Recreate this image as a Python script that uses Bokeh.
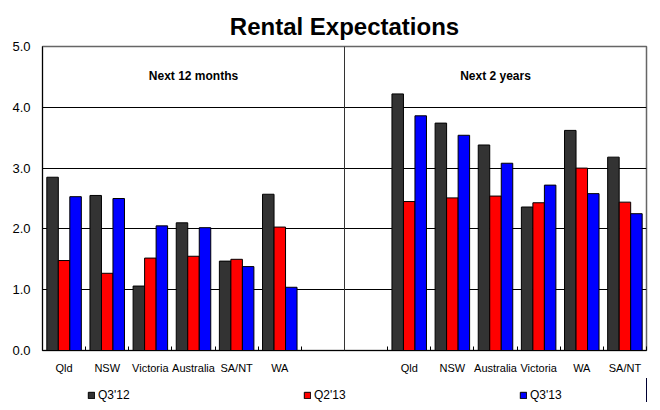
from bokeh.plotting import figure
from bokeh.layouts import column
from bokeh.models import (Range1d, FixedTicker, Span, Legend, LegendItem,
                          ColumnDataSource, NumeralTickFormatter)
from bokeh.core.properties import value
from bokeh.embed import file_html
from bokeh.resources import INLINE

left_cats = ["Qld", "NSW", "Victoria", "Australia", "SA/NT", "WA"]
right_cats = ["Qld", "NSW", "Australia", "Victoria", "WA", "SA/NT"]
series = ["Q3'12", "Q2'13", "Q3'13"]
left_q312 = [2.85, 2.55, 1.06, 2.10, 1.47, 2.57]
left_q213 = [1.48, 1.27, 1.52, 1.55, 1.50, 2.03]
left_q313 = [2.53, 2.50, 2.05, 2.02, 1.38, 1.04]
right_q312 = [4.22, 3.74, 3.38, 2.36, 3.62, 3.18]
right_q213 = [2.45, 2.51, 2.54, 2.43, 3.00, 2.44]
right_q313 = [3.86, 3.54, 3.08, 2.72, 2.58, 2.25]
panel_labels = ["Next 12 months", "Next 2 years"]
y_ticks = [0, 1, 2, 3, 4, 5]

FONT = "Liberation Sans"
colors = ["#333333", "#ff0000", "#0000ff"]

all_labels = left_cats + ["", ""] + right_cats
n = len(all_labels)
left_idx = list(range(len(left_cats)))
right_idx = [i + len(left_cats) + 2 for i in range(len(right_cats))]
split = len(left_cats) + 1

p = figure(width=652, height=378, output_backend="svg", toolbar_location=None,
           x_range=Range1d(0, n), y_range=Range1d(0, 5),
           title="Rental Expectations",
           min_border_left=42, min_border_right=6, min_border_top=46,
           min_border_bottom=28)
p.title.align = "center"
p.title.offset = -18
p.title.standoff = 13
p.title.text_font = FONT
p.title.text_font_size = "24px"
p.title.text_font_style = "bold"
p.title.text_color = "#000000"

p.outline_line_color = "#666666"
p.outline_line_width = 1.5
p.background_fill_color = "white"
p.border_fill_color = "white"

# grid
p.xgrid.grid_line_color = None
p.ygrid.grid_line_color = "#000000"
p.ygrid.grid_line_width = 1
p.ygrid.ticker = FixedTicker(ticks=y_ticks)

# y axis
p.yaxis.ticker = FixedTicker(ticks=y_ticks)
p.yaxis.formatter = NumeralTickFormatter(format="0.0")
p.yaxis.major_label_text_font = FONT
p.yaxis.major_label_text_font_size = "13px"
p.yaxis.major_label_text_color = "#000000"
p.yaxis.major_tick_out = 0
p.yaxis.major_tick_in = 0
p.yaxis.minor_tick_line_color = None
p.yaxis.axis_line_color = "#000000"
p.yaxis.major_label_standoff = 12

# x axis
centers = [i + 0.5 for i in range(n)]
p.xaxis.ticker = FixedTicker(ticks=centers, minor_ticks=list(range(n + 1)))
p.xaxis.major_label_overrides = {c: lab for c, lab in zip(centers, all_labels)}
p.xaxis.major_tick_out = 0
p.xaxis.major_tick_in = 0
p.xaxis.minor_tick_in = 4
p.xaxis.minor_tick_out = 0
p.xaxis.minor_tick_line_color = "#000000"
p.xaxis.axis_line_color = "#000000"
p.xaxis.major_label_text_font = FONT
p.xaxis.major_label_text_font_size = "11px"
p.xaxis.major_label_text_color = "#000000"
p.xaxis.major_label_standoff = 11

# bars
data_sets = [left_q312 + right_q312, left_q213 + right_q213, left_q313 + right_q313]
bw = 0.8 / 3
offsets = [-bw, 0, bw]
xs_base = [i + 0.5 for i in left_idx + right_idx]
sources = []
for k in range(3):
    src = ColumnDataSource(dict(x=[x + offsets[k] for x in xs_base], top=data_sets[k]))
    sources.append(src)
    p.vbar(x="x", top="top", width=bw, bottom=0, source=src,
           fill_color=colors[k], line_color="#000000", line_width=1)

# divider
p.add_layout(Span(location=split, dimension="height", line_color="#333333", line_width=1))

# panel labels
p.text(x=[split / 2, split + (n - split) / 2], y=[4.52, 4.52], text=panel_labels,
       text_font=value(FONT), text_font_size="12px", text_font_style="bold",
       text_align="center", text_baseline="middle", text_color="#000000")

# legend strip (separate small figure below the chart; its view range
# is set away from the data so only the legend itself is visible)
lf = figure(width=652, height=24, output_backend="svg", toolbar_location=None,
            x_range=Range1d(-20, -19), y_range=Range1d(0, 1),
            x_axis_type=None, y_axis_type=None,
            min_border=0, min_border_left=0, min_border_right=0,
            min_border_top=0, min_border_bottom=0)
lf.outline_line_color = None
lf.grid.grid_line_color = None
lf.background_fill_color = "white"
lf.border_fill_color = "white"
leg_renderers = []
for k in range(3):
    r = lf.vbar(x="x", top="top", width=bw, bottom=0, source=sources[k],
                fill_color=colors[k], line_color="#000000", line_width=1)
    leg_renderers.append(r)

legend = Legend(items=[LegendItem(label=s, renderers=[r]) for s, r in zip(series, leg_renderers)],
                orientation="horizontal", location=(45, 0),
                glyph_width=8, glyph_height=8, label_standoff=3, label_width=71,
                label_height=12, spacing=134, padding=0, margin=0, border_line_color=None,
                background_fill_alpha=0, label_text_font=FONT,
                label_text_font_size="12px", label_text_color="#000000")
lf.add_layout(legend, "center")

layout = column(p, lf, spacing=0)
open("out.html", "w").write(file_html(layout, INLINE))
